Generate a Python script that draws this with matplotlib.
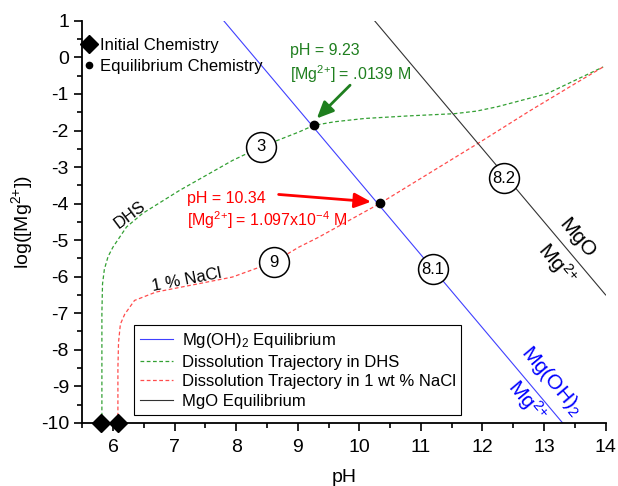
import matplotlib
matplotlib.use("Agg")
import matplotlib.pyplot as plt
import numpy as np
from matplotlib.lines import Line2D
from matplotlib.ticker import MultipleLocator

plt.rcParams['font.family'] = ['Liberation Sans', 'DejaVu Sans']
plt.rcParams['mathtext.fontset'] = 'custom'
plt.rcParams['mathtext.rm'] = 'Liberation Sans'
plt.rcParams['mathtext.it'] = 'Liberation Sans'
plt.rcParams['axes.unicode_minus'] = False

# equilibrium lines: log[Mg2+] = k - 2 pH
ph_mgoh2 = [7.8, 13.3]
k_mgoh2 = 16.6
ph_mgo = [10.25, 14.0]
k_mgo = 21.5

# dissolution trajectory in DHS
ph_dhs = [5.82, 5.82, 5.83, 5.86, 5.92, 6.0, 6.22, 6.48, 7.08, 7.94, 8.40, 9.02, 9.26,
          9.6, 10.09, 10.8, 11.54, 11.9, 12.24, 13.05, 13.96]
log_dhs = [-10, -7.0, -6.2, -5.8, -5.45, -5.19, -4.64, -4.27, -3.64, -2.82, -2.45, -2.04, -1.86,
           -1.76, -1.67, -1.6, -1.54, -1.47, -1.35, -0.99, -0.26]

# dissolution trajectory in 1 wt % NaCl
ph_nacl = [6.08, 6.08, 6.09, 6.12, 6.19, 6.35, 6.7, 7.40, 7.94, 8.61, 9.02, 9.34, 10.33,
           11.92, 12.78, 13.59, 13.96]
log_nacl = [-10, -8.5, -7.8, -7.3, -7.03, -6.65, -6.42, -6.19, -6.01, -5.6, -5.19, -4.92, -4.0,
            -2.36, -1.45, -0.63, -0.26]

ph_init = [5.8, 6.08]
log_init = [-10, -10]
ph_eq = [9.26, 10.33]
log_eq = [-1.86, -3.98]

# circled step labels
step_lbl = ['3', '9', '8.2', '8.1']
step_ph = [8.4, 8.61, 12.35, 11.19]
step_log = [-2.45, -5.6, -3.31, -5.8]

fig = plt.figure(figsize=(6.18, 4.86), dpi=100)
ax = fig.add_axes([0.133, 0.130, 0.847, 0.827])

x1 = np.array(ph_mgoh2)
l1, = ax.plot(x1, k_mgoh2 - 2 * x1, color='#4040ff', lw=0.8)
l2, = ax.plot(ph_dhs, log_dhs, color='#33a033', lw=0.9, dashes=(3, 2))
l3, = ax.plot(ph_nacl, log_nacl, color='#ff4c4c', lw=0.9, dashes=(3, 2))
x2 = np.array(ph_mgo)
l4, = ax.plot(x2, k_mgo - 2 * x2, color='#333333', lw=0.8)

ax.plot(ph_init, log_init, 'D', color='black', ms=9.5, clip_on=False, zorder=5)
ax.plot(ph_eq, log_eq, 'o', color='black', ms=6, zorder=5)

ax.plot(step_ph, step_log, 'o', ms=21.5, mfc='white', mec='black', mew=1.1, ls='none', zorder=6)
for lbl, px, py in zip(step_lbl, step_ph, step_log):
    ax.text(px, py, lbl, fontsize=12, ha='center', va='center', zorder=7)

green = '#1f7f1f'
ax.text(8.87, 0.2, 'pH = 9.23', color=green, fontsize=11.5, va='center')
ax.text(8.87, -0.46, '[Mg$^{2{+}}$] = .0139 M', color=green, fontsize=11.5, va='center')
ax.annotate('', xy=(9.31, -1.67), xytext=(9.85, -0.76),
            arrowprops=dict(arrowstyle='-|>,head_width=0.45,head_length=1.0', color=green, lw=2,
                            shrinkA=0, shrinkB=0))
red = '#ff0000'
ax.text(7.21, -3.86, 'pH = 10.34', color=red, fontsize=11.5, va='center')
ax.text(7.21, -4.46, '[Mg$^{2{+}}$] = 1.097x10$^{-4}$ M', color=red, fontsize=11.5, va='center')
ax.annotate('', xy=(10.19, -3.95), xytext=(8.69, -3.75),
            arrowprops=dict(arrowstyle='-|>,head_width=0.45,head_length=1.0', color=red, lw=2,
                            shrinkA=0, shrinkB=0))

ax.text(6.27, -4.3, 'DHS', fontsize=12, rotation=37, ha='center', va='center')
ax.text(7.2, -6.1, '1 % NaCl', fontsize=12, rotation=11, ha='center', va='center')
ax.text(13.53, -4.96, 'MgO', fontsize=15, rotation=-50, ha='center', va='center')
ax.text(13.21, -5.64, 'Mg$^{2{+}}$', fontsize=15, rotation=-50, ha='center', va='center')
ax.text(13.13, -8.84, 'Mg(OH)$_2$', fontsize=15, rotation=-50, ha='center', va='center', color='#0000ff')
ax.text(12.73, -9.39, 'Mg$^{2{+}}$', fontsize=15, rotation=-50, ha='center', va='center', color='#0000ff')

ax.set_xlim(5.5, 14)
ax.set_ylim(-10, 1)
ax.xaxis.set_major_locator(MultipleLocator(1))
ax.xaxis.set_minor_locator(MultipleLocator(0.5))
ax.yaxis.set_major_locator(MultipleLocator(1))
ax.yaxis.set_minor_locator(MultipleLocator(0.5))
ax.tick_params(which='major', direction='out', length=6, width=1.2, labelsize=14)
ax.tick_params(axis='x', which='major', pad=6)
ax.tick_params(which='minor', direction='out', length=3.5, width=1.2)
for s in ['top', 'right']:
    ax.spines[s].set_visible(False)
for s in ['left', 'bottom']:
    ax.spines[s].set_linewidth(1.3)
ax.set_xlabel('pH', fontsize=14, labelpad=9)
ax.set_ylabel('log([Mg$^{2{+}}$])', fontsize=14)

h_init = Line2D([], [], marker='D', ls='none', color='black', ms=9)
h_eq = Line2D([], [], marker='o', ls='none', color='black', ms=4.5)
leg1 = ax.legend([h_init, h_eq], ['Initial Chemistry', 'Equilibrium Chemistry'],
                 loc='upper left', bbox_to_anchor=(-0.015, 0.975), frameon=False,
                 fontsize=12, handlelength=1.0, handletextpad=0.15, labelspacing=0.4,
                 borderaxespad=0)
ax.add_artist(leg1)
leg2 = ax.legend([l1, l2, l3, l4],
                 ['Mg(OH)$_2$ Equilibrium', 'Dissolution Trajectory in DHS',
                  'Dissolution Trajectory in 1 wt % NaCl', 'MgO Equilibrium'],
                 loc='upper left', bbox_to_anchor=(0.099, 0.243), fontsize=12,
                 fancybox=False, edgecolor='black', framealpha=1, borderaxespad=0,
                 handlelength=2.0, handletextpad=0.5, labelspacing=0.28, borderpad=0.35)
leg2.get_frame().set_linewidth(0.8)

fig.savefig('out.png', dpi=100)
